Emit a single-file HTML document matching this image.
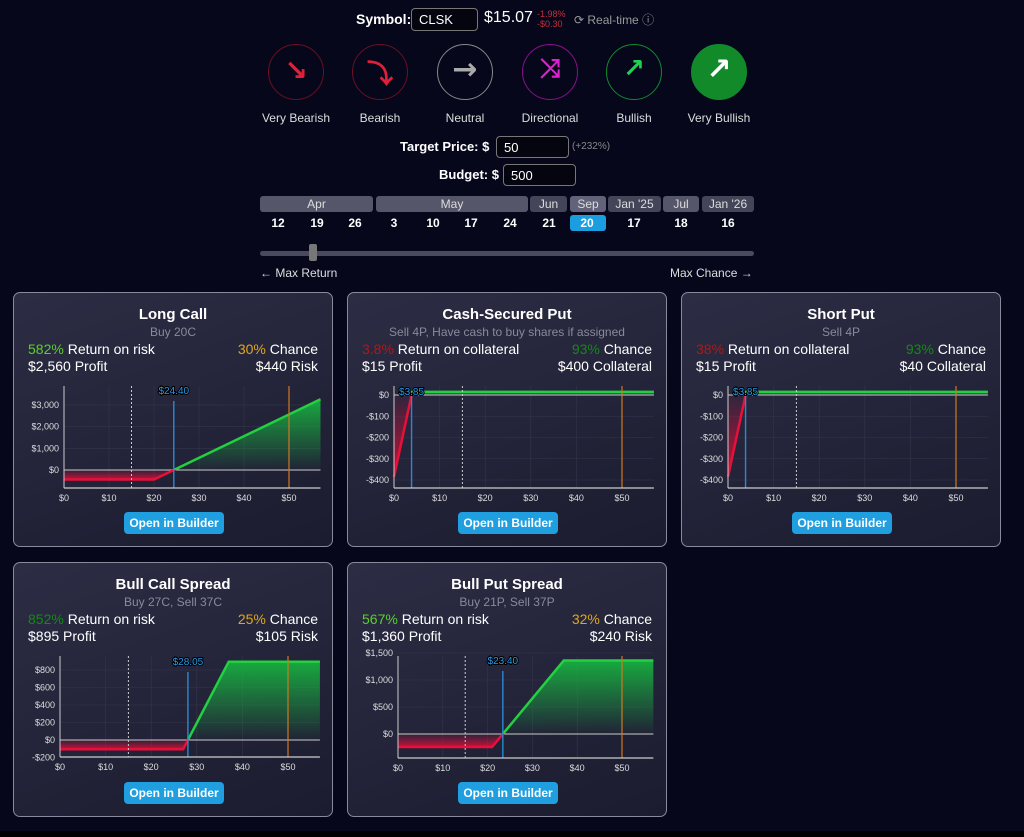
<!DOCTYPE html>
<html><head><meta charset="utf-8"><style>
*{box-sizing:border-box;margin:0;padding:0}
body{width:1024px;height:837px;background:#07071c;font-family:"Liberation Sans",sans-serif;color:#fff;position:relative;overflow:hidden}
.a{position:absolute;white-space:nowrap}
.inp{position:absolute;border:1px solid #777;border-radius:4px;background:#05050f;font-size:13px;padding:3px 7px}
.circ{position:absolute;width:56px;height:56px;border-radius:50%;border:1px solid}
.ic{position:absolute;width:56px;text-align:center;font-weight:bold;font-family:"DejaVu Sans",sans-serif}
.lbl{position:absolute;width:100px;text-align:center;font-size:12px;color:#ddd}
.mon{position:absolute;top:196px;height:16px;border-radius:3px;font-size:12px;text-align:center;line-height:16px;color:#ddd}
.day{position:absolute;top:216px;width:36px;text-align:center;font-size:12px;font-weight:bold}
.card{position:absolute;width:320px;height:255px;border:1px solid #8a8a9a;border-radius:7px;background:linear-gradient(160deg,#2c2c44,#1c1c30)}
.card .t{position:absolute;top:13px;width:100%;text-align:center;font-weight:bold;font-size:15px}
.card .s{position:absolute;top:32px;width:100%;text-align:center;font-size:12px;color:#8a8a9a}
.card .r{position:absolute;font-size:14px}
.btn{position:absolute;left:110px;top:219px;width:100px;height:22px;background:#1f9ee0;border-radius:4px;font-size:12px;font-weight:bold;text-align:center;line-height:22px}
svg{position:absolute;left:0;top:0}
</style></head><body>
<div class="a" style="left:356px;top:11px;font-weight:bold;font-size:14px">Symbol:</div>
<div class="inp" style="left:411px;top:8px;width:67px;height:23px">CLSK</div>
<div class="a" style="left:484px;top:9px;font-size:16px">$15.07</div>
<div class="a" style="left:537px;top:9px;font-size:9px;color:#c0303a;line-height:10px">-1.98%<br>-$0.30</div>
<div class="a" style="left:574px;top:11px;font-size:12px;color:#999">⟳ Real-time ⓘ</div>

<div class="circ" style="left:268px;top:44px;border-color:#6a1020"></div>
<div class="ic" style="left:268px;top:54px;font-size:28px;color:#e0203a">↘</div>
<div class="circ" style="left:352px;top:44px;border-color:#6a1020"></div>
<div class="ic" style="left:352px;top:54px;font-size:26px;color:#e0203a">⤵</div>
<div class="circ" style="left:437px;top:44px;border-color:#888"></div>
<div class="ic" style="left:437px;top:52px;font-size:30px;color:#aaa">→</div>
<div class="circ" style="left:522px;top:44px;border-color:#8a108a"></div>
<div class="ic" style="left:522px;top:54px;font-size:26px;color:#e020d0">⤨</div>
<div class="circ" style="left:606px;top:44px;border-color:#108a30"></div>
<div class="ic" style="left:606px;top:54px;font-size:26px;color:#20d050">↗</div>
<div class="circ" style="left:691px;top:44px;border-color:#108a30;background:#128a2a"></div>
<div class="ic" style="left:691px;top:52px;font-size:30px;color:#fff">↗</div>
<div class="lbl" style="left:246px;top:111px">Very Bearish</div>
<div class="lbl" style="left:330px;top:111px">Bearish</div>
<div class="lbl" style="left:415px;top:111px">Neutral</div>
<div class="lbl" style="left:500px;top:111px">Directional</div>
<div class="lbl" style="left:584px;top:111px">Bullish</div>
<div class="lbl" style="left:669px;top:111px">Very Bullish</div>

<div class="a" style="left:400px;top:139px;font-weight:bold;font-size:13px">Target Price: $</div>
<div class="inp" style="left:496px;top:136px;width:73px;height:22px">50</div>
<div class="a" style="left:572px;top:141px;font-size:10px;color:#888">(+232%)</div>
<div class="a" style="left:439px;top:167px;font-weight:bold;font-size:13px">Budget: $</div>
<div class="inp" style="left:503px;top:164px;width:73px;height:22px">500</div>

<div class="mon" style="left:260px;width:113px;background:#56566a">Apr</div>
<div class="mon" style="left:376px;width:152px;background:#56566a">May</div>
<div class="mon" style="left:530px;width:37px;background:#45455a">Jun</div>
<div class="mon" style="left:570px;width:36px;background:#62627a">Sep</div>
<div class="mon" style="left:608px;width:53px;background:#45455a">Jan '25</div>
<div class="mon" style="left:663px;width:36px;background:#56566a">Jul</div>
<div class="mon" style="left:702px;width:52px;background:#45455a">Jan '26</div>
<div class="day" style="left:260px">12</div><div class="day" style="left:299px">19</div><div class="day" style="left:337px">26</div>
<div class="day" style="left:376px">3</div><div class="day" style="left:415px">10</div><div class="day" style="left:453px">17</div>
<div class="day" style="left:492px">24</div><div class="day" style="left:531px">21</div>
<div class="a" style="left:570px;top:215px;width:36px;height:16px;background:#1a9ee0;border-radius:3px"></div>
<div class="day" style="left:569px">20</div><div class="day" style="left:616px">17</div><div class="day" style="left:663px">18</div><div class="day" style="left:710px">16</div>
<div class="a" style="left:260px;top:251px;width:494px;height:5px;background:#4a4a5c;border-radius:3px"></div>
<div class="a" style="left:309px;top:244px;width:8px;height:17px;background:#777;border-radius:2px"></div>
<div class="a" style="left:260px;top:266px;font-size:12px;color:#ddd">← Max Return</div>
<div class="a" style="left:670px;top:266px;font-size:12px;color:#ddd">Max Chance →</div>

<div id="cards"></div>
<div class="a" style="left:0;top:831px;width:1024px;height:6px;background:#000"></div>
<script>
const C=[
{x:13,y:292,t:"Long Call",s:"Buy 20C",p:"582%",pc:"#5ad02a",pl:" Return on risk",c:"30%",cc:"#e0a818",r1:"$2,560 Profit",r2:"$440 Risk",
 ax:50,xs:4.5,xb:195,z:177,ys:0.0217,top:93,yt:[0,1000,2000,3000],pts:[[0,-440],[20,-440],[57,3260]],be:24.4,bl:"$24.40",lby:101,blt:108,ylab:v=>"$"+v.toLocaleString('en-US')},
{x:347,y:292,t:"Cash-Secured Put",s:"Sell 4P, Have cash to buy shares if assigned",p:"3.8%",pc:"#b01818",pl:" Return on collateral",c:"93%",cc:"#148a14",r1:"$15 Profit",r2:"$400 Collateral",
 ax:46,xs:4.56,xb:195,z:102,ys:0.2125,top:93,yt:[0,-100,-200,-300,-400],pts:[[0,-385],[4,15],[57,15]],be:3.85,bl:"$3.85",lby:102,blt:102,ylab:v=>v<0?"-$"+(-v):"$"+v},
{x:681,y:292,t:"Short Put",s:"Sell 4P",p:"38%",pc:"#b01818",pl:" Return on collateral",c:"93%",cc:"#148a14",r1:"$15 Profit",r2:"$40 Collateral",
 ax:46,xs:4.56,xb:195,z:102,ys:0.2125,top:93,yt:[0,-100,-200,-300,-400],pts:[[0,-385],[4,15],[57,15]],be:3.85,bl:"$3.85",lby:102,blt:102,ylab:v=>v<0?"-$"+(-v):"$"+v},
{x:13,y:562,t:"Bull Call Spread",s:"Buy 27C, Sell 37C",p:"852%",pc:"#148a14",pl:" Return on risk",c:"25%",cc:"#e0a818",r1:"$895 Profit",r2:"$105 Risk",
 ax:46,xs:4.56,xb:194,z:177,ys:0.0875,top:93,yt:[-200,0,200,400,600,800],pts:[[0,-105],[27,-105],[37,895],[57,895]],be:28.05,bl:"$28.05",lby:102,blt:109,ylab:v=>v<0?"-$"+(-v):"$"+v},
{x:347,y:562,t:"Bull Put Spread",s:"Buy 21P, Sell 37P",p:"567%",pc:"#5ad02a",pl:" Return on risk",c:"32%",cc:"#e0a818",r1:"$1,360 Profit",r2:"$240 Risk",
 ax:50,xs:4.48,xb:195,z:171,ys:0.054,top:93,yt:[0,500,1000,1500],pts:[[0,-240],[21,-240],[37,1360],[57,1360]],be:23.4,bl:"$23.40",lby:101,blt:108,ylab:v=>"$"+v.toLocaleString('en-US')}
];
let h="";
C.forEach((c,i)=>{
 const X=v=>c.ax+v*c.xs, Y=v=>c.z-v*c.ys, R=X(57);
 const maxv=Math.max(...c.pts.map(p=>p[1])), minv=Math.min(...c.pts.map(p=>p[1]));
 let s=`<svg width="320" height="255" font-family="Liberation Sans" font-size="9">
 <defs><linearGradient id="g${i}" gradientUnits="userSpaceOnUse" x1="0" y1="${Y(maxv)}" x2="0" y2="${c.z}"><stop offset="0" stop-color="#16c040" stop-opacity=".85"/><stop offset="1" stop-color="#16c040" stop-opacity="0.02"/></linearGradient>
 <linearGradient id="r${i}" gradientUnits="userSpaceOnUse" x1="0" y1="${Y(minv)}" x2="0" y2="${c.z}"><stop offset="0" stop-color="#e0103a" stop-opacity=".85"/><stop offset="1" stop-color="#e0103a" stop-opacity="0.05"/></linearGradient>
 <clipPath id="cn${i}"><rect x="0" y="${c.z}" width="320" height="100"/></clipPath><clipPath id="cp${i}"><rect x="0" y="0" width="320" height="${c.z}"/></clipPath></defs>`;
 for(let v=0;v<=50;v+=10){s+=`<line x1="${X(v)}" y1="${c.top}" x2="${X(v)}" y2="${c.xb}" stroke="#34344a" stroke-width=".6"/><text x="${X(v)}" y="${c.xb+13}" text-anchor="middle" fill="#ddd">$${v}</text>`;}
 c.yt.forEach(v=>{s+=`<line x1="${c.ax}" y1="${Y(v)}" x2="${R}" y2="${Y(v)}" stroke="#34344a" stroke-width=".6"/><text x="${c.ax-5}" y="${Y(v)+3}" text-anchor="end" fill="#ddd">${c.ylab(v)}</text>`;});
 let pl=c.pts.map(p=>X(p[0])+","+Y(p[1])).join(" ");
 let poly=`${X(0)},${c.z} ${pl} ${R},${c.z}`;
 s+=`<polygon points="${poly}" fill="url(#g${i})" clip-path="url(#cp${i})"/>`;
 s+=`<polygon points="${poly}" fill="url(#r${i})" clip-path="url(#cn${i})"/>`;
 s+=`<line x1="${c.ax}" y1="${c.z}" x2="${R}" y2="${c.z}" stroke="#ccc" stroke-width="1"/>`;
 s+=`<polyline points="${pl}" fill="none" stroke="#e8103a" stroke-width="2.5" clip-path="url(#cn${i})"/>`;
 s+=`<polyline points="${pl}" fill="none" stroke="#22d040" stroke-width="2.5" clip-path="url(#cp${i})"/>`;
 s+=`<line x1="${X(15)}" y1="${c.top}" x2="${X(15)}" y2="${c.xb}" stroke="#ccc" stroke-dasharray="2,2"/>`;
 s+=`<line x1="${X(50)}" y1="${c.top}" x2="${X(50)}" y2="${c.xb}" stroke="#d07820" stroke-width="1.2"/>`;
 s+=`<line x1="${X(c.be)}" y1="${c.blt}" x2="${X(c.be)}" y2="${c.xb}" stroke="#2a8ad0" stroke-width="1.4"/>`;
 s+=`<text x="${X(c.be)}" y="${c.lby}" text-anchor="middle" fill="#2a9ae8" stroke="#000" stroke-width="2" paint-order="stroke" font-size="10">${c.bl}</text>`;
 s+=`<line x1="${c.ax}" y1="${c.top}" x2="${c.ax}" y2="${c.xb}" stroke="#ccc"/><line x1="${c.ax}" y1="${c.xb}" x2="${R}" y2="${c.xb}" stroke="#ccc" stroke-width="1.2"/>`;
 s+=`</svg>`;
 h+=`<div class="card" style="left:${c.x}px;top:${c.y}px">${s}<div class="t">${c.t}</div><div class="s">${c.s}</div>
 <div class="r" style="left:14px;top:48px"><span style="color:${c.pc}">${c.p}</span>${c.pl}</div>
 <div class="r" style="right:14px;top:48px"><span style="color:${c.cc}">${c.c}</span> Chance</div>
 <div class="r" style="left:14px;top:65px">${c.r1}</div><div class="r" style="right:14px;top:65px">${c.r2}</div>
 <div class="btn">Open in Builder</div></div>`;
});
document.getElementById("cards").innerHTML=h;
</script>
</body></html>
